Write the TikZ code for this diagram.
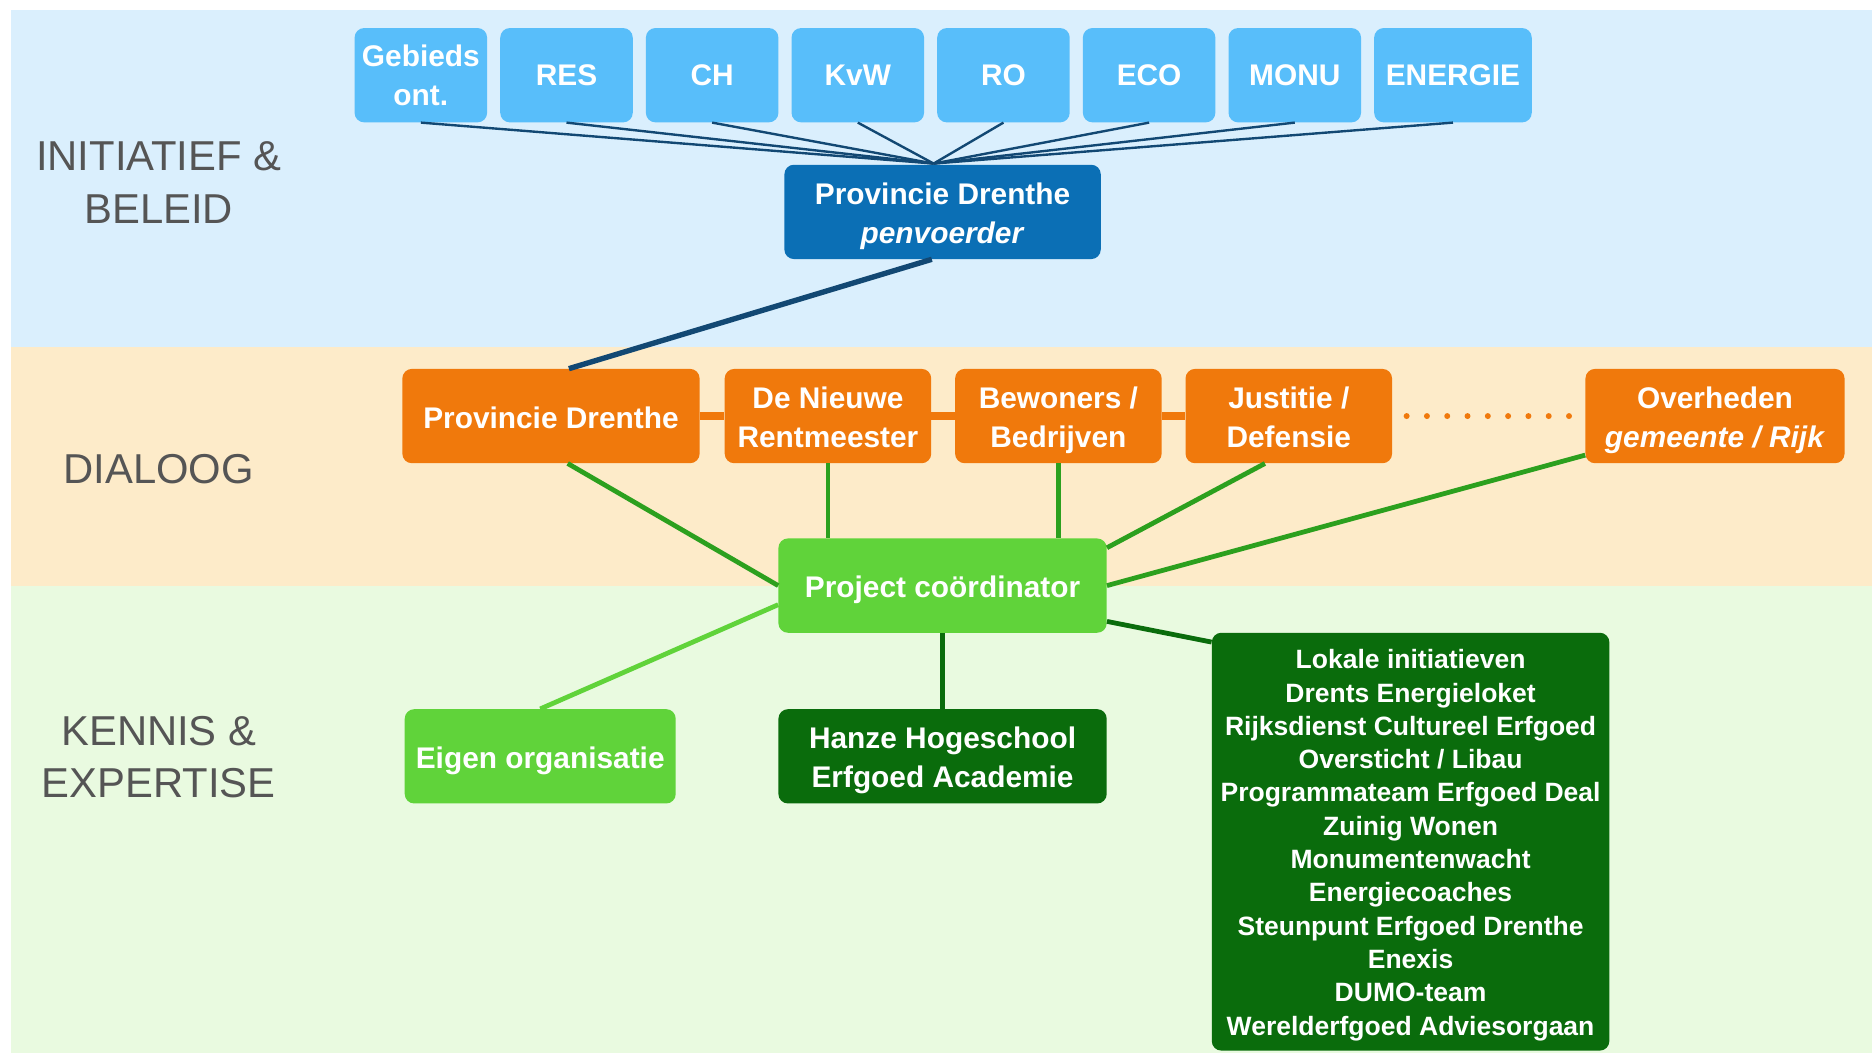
\documentclass[tikz,border=0pt]{standalone}
\usepackage{fontspec}
\setmainfont{Liberation Sans}
\usepackage{tikz}
\usetikzlibrary{positioning}

\definecolor{bandblue}{RGB}{218,239,253}
\definecolor{bandorange}{RGB}{253,235,201}
\definecolor{bandgreen}{RGB}{233,250,224}
\definecolor{topblue}{RGB}{88,190,250}
\definecolor{penblue}{RGB}{11,111,181}
\definecolor{lineblue}{RGB}{18,72,115}
\definecolor{dialorange}{RGB}{240,121,12}
\definecolor{pcgreen}{RGB}{96,211,58}
\definecolor{linegreen}{RGB}{44,160,30}
\definecolor{darkgreen}{RGB}{10,108,12}
\definecolor{labelgray}{RGB}{85,85,85}

\begin{document}
\begin{tikzpicture}[x=1pt,y=-1pt]
  \tikzset{box/.style={rounded corners=8pt, text=white, align=center, inner sep=0pt,
      minimum height=79pt, font=\fontsize{25}{33}\selectfont\bfseries},
    lowered/.style={text depth=5pt, execute at begin node={\rule{0pt}{#1}}},
    lowered/.default=25pt,
    topbox/.style={box, fill=topblue, minimum width=111pt},
    dialbox/.style={box, fill=dialorange},
    layer label/.style={text=labelgray, align=center, font=\fontsize{35}{44}\selectfont},
    topline/.style={lineblue, line width=2pt},
    greenline/.style={linegreen, line width=4pt}}
  % bands
  \fill[white] (0,0) rectangle (1568,882);
  \useasboundingbox (0,0) rectangle (1568,882);
  \fill[bandblue] (9,8) rectangle (1568,291);
  \fill[bandorange] (9,291) rectangle (1568,491);
  \fill[bandgreen] (9,491) rectangle (1568,882);
  \node[layer label] (initiatief) at (133,153) {INITIATIEF \&\\BELEID};
  \node[layer label] (dialoog) at (133,393) {DIALOOG};
  \node[layer label] (kennis) at (133,634) {KENNIS \&\\EXPERTISE};
  % initiatief & beleid
  \node[box, lowered=58pt, fill=penblue, minimum width=265pt] (pd) at (789.5,177.5) {Provincie Drenthe\\\textit{penvoerder}};
  \coordinate (hub) at (782,137);
  \foreach \name/\txt [count=\i from 0] in {geb/{Gebieds\\ont.}, res/RES, ch/CH, kvw/KvW, ro/RO, eco/ECO, monu/MONU}{
    \node[topbox] (\name) at (352.5+122*\i,63) {\txt};
    \draw[topline] (\name.south) -- (hub);
  }
  \node[topbox, minimum width=132pt] (energie) at (1217,63) {ENERGIE};
  \draw[topline] (energie.south) -- (hub);
  % dialoog
  \node[dialbox, lowered, minimum width=249pt] (prov) at (461.5,348.5) {Provincie Drenthe};
  \node[dialbox, lowered=58pt, minimum width=173pt] (rent) at (693.5,348.5) {De Nieuwe\\Rentmeester};
  \node[dialbox, lowered=58pt, minimum width=173pt] (bew) at (886.5,348.5) {Bewoners /\\Bedrijven};
  \node[dialbox, lowered=58pt, minimum width=173pt] (jus) at (1079.5,348.5) {Justitie /\\Defensie};
  \node[dialbox, lowered=58pt, minimum width=217pt] (over) at (1436.5,348.5) {Overheden\\\textit{gemeente / Rijk}};
  \draw[dialorange, line width=6pt] (prov.east) -- (rent.west) (rent.east) -- (bew.west) (bew.east) -- (jus.west);
  \draw[dialorange, line width=5pt, line cap=round, dash pattern=on 0pt off 17pt,
    shorten <=12pt, shorten >=12pt] (jus.east) -- (over.west);
  \draw[lineblue, line width=4.5pt] ([xshift=-9pt]pd.south) -- ([xshift=15pt]prov.north);
  % kennis & expertise
  \node[box, lowered, fill=pcgreen, minimum width=275pt] (pc) at (789.5,490.5) {Project coördinator};
  \node[box, lowered, fill=pcgreen, minimum width=227pt] (eigen) at (452.5,633.5) {Eigen organisatie};
  \node[box, lowered=58pt, fill=darkgreen, minimum width=275pt] (hanze) at (789.5,633.5) {Hanze Hogeschool\\Erfgoed Academie};
  \node[box, lowered=329pt, fill=darkgreen, minimum width=333pt, minimum height=350pt,
    font=\fontsize{22.2}{27.9}\selectfont\bfseries] (partners) at (1181.5,705) {Lokale initiatieven\\Drents Energieloket\\Rijksdienst Cultureel Erfgoed\\Oversticht / Libau\\Programmateam Erfgoed Deal\\Zuinig Wonen\\Monumentenwacht\\Energiecoaches\\Steunpunt Erfgoed Drenthe\\Enexis\\DUMO-team\\Werelderfgoed Adviesorgaan};
  \draw[greenline] ([xshift=14pt]prov.south) -- (pc.west);
  \draw[greenline] (rent.south) -- (rent.south |- pc.north);
  \draw[greenline] (bew.south) -- (bew.south |- pc.north);
  \draw[greenline] ([xshift=-20pt]jus.south) -- ([yshift=-8pt]pc.north east);
  \draw[greenline] ([yshift=7pt]over.south west) -- (pc.east);
  \draw[pcgreen, line width=4pt] ([yshift=-16pt]pc.west) -- (eigen.north);
  \draw[darkgreen, line width=4pt] (pc.south) -- (hanze.north);
  \draw[darkgreen, line width=4pt] ([yshift=-30pt]pc.east) -- ([yshift=-8pt]partners.north west);
\end{tikzpicture}
\end{document}
